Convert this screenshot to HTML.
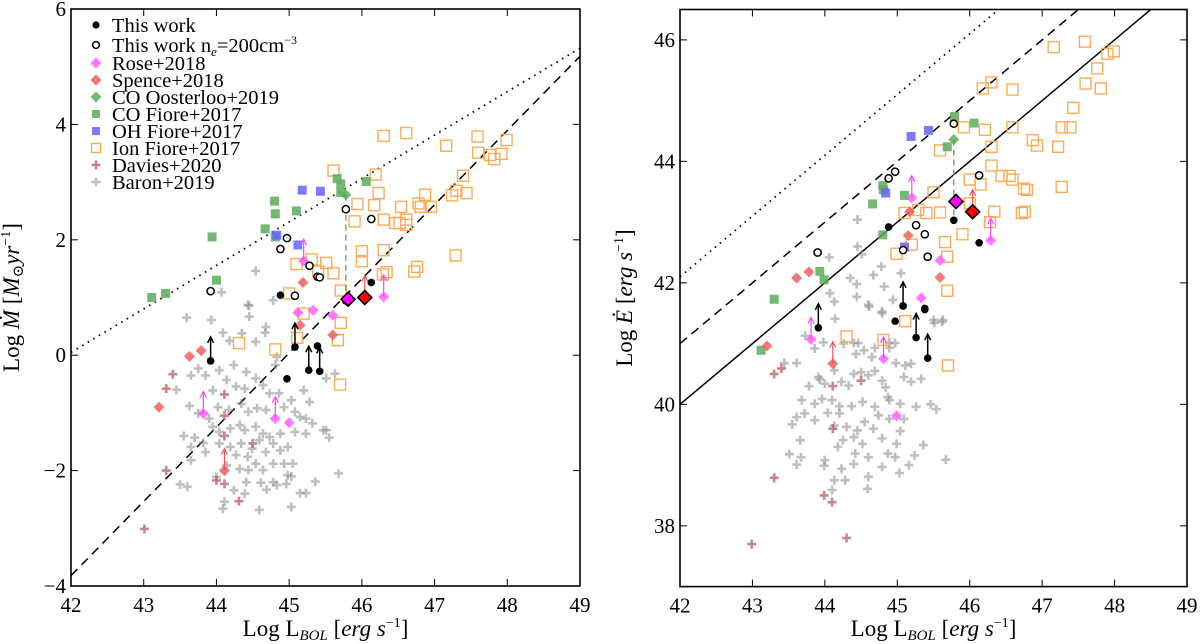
<!DOCTYPE html>
<html><head><meta charset="utf-8"><style>
html,body{margin:0;padding:0;background:#fff;}
svg{display:block;font-family:"Liberation Serif","DejaVu Serif",serif;}
</style></head><body>
<svg id="chart" width="1200" height="644" viewBox="0 0 1200 644" xmlns="http://www.w3.org/2000/svg">
<g id="left"></g>
<g id="right"></g>
</svg>
<script>
// ---------- LEFT PANEL DATA (log L_bol, log Mdot) ----------
const twL = [44.88,46.13,45.78,43.92,45.08,44.97,45.27,45.42,45.39];
const twM = [1.04,1.26,0.94,-0.10,0.14,-0.41,-0.26,-0.28,0.16];
const twUp = [0,0,0,1,1,0,1,1,0];
const twoL = [43.92,44.88,44.97,45.28,45.39,45.42,45.08,45.78,46.13];
const twoM = [1.11,1.84,2.03,1.55,1.36,1.35,1.03,2.53,2.36];
const roseL = [45.2,46.3,45.12,45.33,45.6,43.82,44.81,45.0];
const roseM = [1.63,1.01,0.74,0.78,0.69,-1.01,-1.10,-1.17];
const roseUp = [1,1,0,0,0,1,1,0];
const speL = [45.19,43.63,43.79,43.21,45.15,45.6,44.11];
const speM = [1.26,-0.02,0.08,-0.9,0.52,0.35,-2.0];
const speUp = [0,0,0,0,0,0,1];
const bigRoseL=[45.81], bigRoseM=[0.97];
const bigSpeL=[46.04], bigSpeM=[1.0];
const oosL=[45.78], oosM=[2.78], oosLow=[1.04];
const coL=[43.11,43.3,43.94,44.0,44.67,44.8,44.81,44.81,45.1,45.66,45.71,45.71,46.06];
const coM=[1.0,1.07,2.05,1.30,2.19,2.67,2.45,2.05,2.5,3.06,2.97,2.82,3.01];
const ohL=[44.83,45.12,45.18,45.43];
const ohM=[2.08,1.91,2.86,2.84];
const ionL=[45.61,46.3,46.61,47.59,47.99,47.16,47.6,47.76,47.92,47.82,46.19,47.39,46.23,46.87,47.3,47.44,47.24,45.94,46.17,46.54,46.78,46.81,46.95,45.9,46.3,46.46,46.61,46.61,46.52,46.0,46.0,46.3,47.29,46.76,46.72,46.29,46.34,45.1,45.31,45.51,45.4,45.61,45.71,45.0,45.2,45.71,45.67,44.31,44.81,45.11,45.7];
const ionM=[3.2,3.8,3.85,3.79,3.73,3.63,3.51,3.47,3.49,3.40,3.13,3.11,2.81,2.78,2.85,2.81,2.77,2.62,2.6,2.57,2.63,2.57,2.57,2.32,2.35,2.29,2.35,2.26,2.29,1.8,1.63,1.82,1.73,1.53,1.45,1.4,1.44,1.58,1.66,1.6,1.45,1.42,1.12,1.07,0.72,0.56,0.26,0.21,0.1,0.3,-0.51];
const davL=[43.4,43.31,43.01,43.31,44.11,44.11,44.11,44.5,44.0,44.11,44.31];
const davM=[-0.33,-0.58,-3.01,-2.0,-0.68,-1.05,-1.4,-1.53,-2.17,-2.23,-2.53];
const barL=[44.54,44.07,44.45,44.78,44.45,43.59,43.93,44.43,44.09,44.18,44.35,44.68,44.67,44.54,44.83,44.81,43.75,43.85,44.04,44.24,44.41,44.54,44.14,44.27,43.95,43.45,44.39,44.64,44.73,44.86,45.03,45.2,45.28,43.63,43.75,43.9,44.02,44.17,44.34,44.44,44.56,44.68,44.93,45.08,45.15,45.23,45.32,43.95,44.04,44.19,44.32,44.39,44.54,44.64,44.73,44.88,45.08,45.23,45.47,45.55,43.55,43.7,43.82,43.65,43.85,43.65,44.04,44.19,44.34,44.49,44.59,44.68,44.78,44.88,44.98,44.27,44.43,44.54,44.78,44.93,45.05,44.14,44.32,44.44,44.64,44.98,45.03,45.68,43.5,43.6,44.0,44.24,44.41,44.61,44.78,44.83,44.96,44.69,45.15,45.23,45.36,44.39,44.11,44.09,44.59,45.03,45.51,45.63,45.51,43.65];
const barM=[1.46,1.09,0.86,0.95,0.67,0.65,0.61,0.87,0.39,0.25,0.38,0.49,0.39,0.23,-0.03,-0.17,-0.23,-0.35,-0.26,-0.17,-0.29,-0.4,-0.43,-0.54,-0.61,-0.6,-0.58,-0.52,-0.66,-0.66,-0.78,-0.61,-0.81,-0.88,-1.01,-1.1,-0.9,-0.95,-0.84,-0.98,-0.92,-0.95,-0.9,-0.98,-1.07,-1.1,-1.18,-1.24,-1.33,-1.27,-1.21,-1.3,-1.24,-1.36,-1.42,-1.36,-1.33,-1.36,-1.3,-1.43,-1.4,-1.43,-1.52,-1.59,-1.68,-1.82,-1.53,-1.59,-1.53,-1.62,-1.47,-1.68,-1.53,-1.65,-1.59,-1.73,-1.76,-1.88,-1.88,-1.88,-1.88,-1.91,-1.97,-1.99,-1.99,-2.08,-2.1,-2.05,-2.24,-2.28,-2.11,-2.34,-2.2,-2.21,-2.2,-2.25,-2.23,-2.33,-2.39,-2.39,-2.19,-2.4,-2.54,-2.66,-2.68,-2.63,-1.3,-0.32,-0.4,-0.35];
// lines: [L0, y0, L1, y1]
const dottedLineL=[42,0.05,49,5.32];
const dashedLineL=[42,-3.82,49,5.18];

// ---------- RIGHT PANEL DATA (log L_bol, log Edot) ----------
const twLR=[44.88,45.78,46.13,45.08,45.38,43.91,44.97,45.08,45.26,45.42,45.38];
const twE=[42.92,43.03,42.66,41.62,41.58,41.26,41.37,41.62,41.1,40.76,41.56];
const twUpR=[0,0,0,1,0,1,0,0,1,1,0];
const twoLR=[43.9,44.88,44.97,45.26,45.38,45.08,45.42,45.78,46.13];
const twoE=[42.5,43.72,43.83,42.95,42.8,42.54,42.43,44.62,43.77];
const roseLR=[45.2,46.29,45.59,45.33,43.81,44.81,44.99];
const roseE=[43.4,42.7,42.37,41.75,41.07,40.75,39.81];
const roseUpR=[1,1,0,0,1,1,0];
const speLR=[43.61,43.78,45.17,45.15,45.59,43.2,44.11];
const speE=[42.08,42.18,43.17,42.78,42.09,40.96,40.67];
const speUpR=[0,0,0,0,0,0,1];
const bigRoseLR=[45.81], bigRoseE=[43.34];
const bigSpeLR=[46.04], bigSpeE=[43.17];
const oosLR=[45.78], oosE=[44.36], oosLowR=[43.1];
const coLR=[43.3,43.93,43.99,44.66,44.8,44.81,45.1,44.8,45.79,45.69,46.06,43.12];
const coE=[41.73,42.19,42.05,43.3,43.6,43.53,43.44,42.79,44.74,44.24,44.63,40.89];
const ohLR=[44.84,45.19,45.43,45.1];
const ohE=[43.48,44.41,44.51,42.59];
const ionLR=[47.16,47.59,47.9,47.99,47.76,46.3,46.18,46.59,47.6,47.81,47.43,45.92,46.21,46.59,47.27,47.39,46.87,46.93,47.22,45.59,46.3,46.3,46.44,46.55,46.59,46.0,46.15,46.75,46.79,47.27,45.5,45.29,45.4,45.59,45.1,46.0,46.34,46.72,46.76,46.28,45.9,45.2,45.66,44.99,45.69,45.69,45.11,44.3,44.81,45.7];
const ionE=[45.88,45.97,45.77,45.81,45.53,45.3,45.2,45.18,45.28,45.2,44.88,44.56,44.52,44.56,44.56,44.56,44.35,44.26,44.24,44.18,44.24,43.93,43.76,43.76,43.7,43.7,43.62,43.55,43.53,43.58,43.49,43.2,43.15,43.16,43.15,43.31,43.17,43.15,43.17,43.0,42.8,42.63,42.67,42.48,42.43,41.87,41.37,41.12,41.06,40.64];
const davLR=[43.3,43.4,44.11,44.5,44.11,43.3,43.99,44.1,42.99,44.3];
const davE=[40.5,40.59,40.3,40.39,39.6,38.79,38.5,38.39,37.7,37.8];
const barLR=[44.45,44.06,44.51,44.45,44.78,44.35,44.44,44.67,44.82,44.94,45.05,44.07,44.13,44.6,44.79,44.44,45.63,45.5,44.14,44.61,44.79,45.51,45.62,43.73,43.86,43.98,44.26,44.4,44.46,44.69,44.89,44.97,44.43,44.54,44.65,44.89,44.98,45.11,45.19,43.44,43.61,43.91,43.93,44.13,44.23,44.4,44.5,44.6,44.69,44.79,44.84,44.87,45.09,45.19,45.33,44.0,43.78,44.33,43.68,43.86,43.96,44.1,44.2,44.37,44.52,44.69,44.89,45.04,45.26,45.46,45.54,43.61,43.72,43.86,44.04,44.2,44.13,44.55,44.74,44.89,45.09,43.55,44.3,44.45,44.67,45.04,43.66,44.25,44.4,44.52,44.79,44.99,45.36,43.51,43.67,44.0,44.18,44.42,44.6,44.87,44.97,45.24,45.67,43.61,43.99,44.23,44.4,44.79,45.03,45.16,44.13,44.28,44.6,44.1,44.59];
const barE=[43.04,42.42,42.47,42.6,42.27,42.08,41.98,42.13,41.94,41.72,42.16,41.83,41.69,41.64,41.53,41.77,41.39,41.39,41.41,41.61,41.5,41.34,41.36,41.13,40.92,41.02,41.0,41.01,41.01,40.93,41.01,41.01,40.83,40.89,40.78,40.93,40.68,40.64,40.67,40.68,40.68,40.45,40.41,40.56,40.37,40.5,40.53,40.48,40.55,40.39,40.28,40.12,40.45,40.37,40.42,40.34,40.3,40.31,40.07,40.01,40.09,40.07,39.97,39.97,40.04,39.96,40.07,40.01,39.96,40.0,39.92,39.79,39.85,39.74,39.86,39.85,39.65,39.71,39.82,39.76,39.76,39.67,39.63,39.57,39.6,39.56,39.41,39.41,39.46,39.35,39.44,39.35,39.33,39.18,39.13,39.08,39.3,39.19,39.13,39.19,39.13,39.16,39.09,39.01,38.99,38.94,39.02,38.97,38.87,39.0,38.75,38.75,38.81,38.59,38.61];
const dottedLineR=[42,42.1,46.4,46.5];
const dashedLineR=[42,41.0,47.5,46.5];
const solidLineR=[42,40.0,48.5,46.5];

const xTicks=[42,43,44,45,46,47,48,49];
const yTicksL=[-4,-2,0,2,4,6];
const yTicksR=[38,40,42,44,46];

const NS="http://www.w3.org/2000/svg";
function mk(parent,tag,attrs){const e=document.createElementNS(NS,tag);for(const k in attrs)e.setAttribute(k,attrs[k]);parent.appendChild(e);return e;}

function makeAxes(L,R,T,B,xmin,xmax,ymin,ymax){
  return {L,R,T,B,x:v=>L+(v-xmin)/(xmax-xmin)*(R-L),y:v=>B-(v-ymin)/(ymax-ymin)*(B-T)};
}
const AL=makeAxes(71,580,9,586,42,49,-4,6);
const AR=makeAxes(680,1187,9.5,586.6,42,49,37,46.5);

const C={ion:"#ffab55",co:"#5aac5a",oh:"#6464ff",rose:"#ff55ff",spe:"#f06060",dav:"#b85050",bar:"#8a8a8a",green:"#4caf50"};

function plus(g,cx,cy,col,op){const p=mk(g,"path",{d:`M${cx-4.5},${cy}H${cx+4.5}M${cx},${cy-4.5}V${cy+4.5}`,stroke:col,"stroke-width":2.6,"stroke-opacity":op,fill:"none"});return p;}
function diamond(g,cx,cy,s,fill,op,stroke){return mk(g,"path",{d:`M${cx},${cy-s}L${cx+s},${cy}L${cx},${cy+s}L${cx-s},${cy}Z`,fill:fill,"fill-opacity":op,stroke:stroke||"none","stroke-width":stroke?1.6:0});}
function arrow(g,cx,cy,len,col,w){mk(g,"line",{x1:cx,y1:cy,x2:cx,y2:cy-len,stroke:col,"stroke-width":w});mk(g,"path",{d:`M${cx-3},${cy-len+6}L${cx},${cy-len}L${cx+3},${cy-len+6}`,stroke:col,"stroke-width":w,fill:"none"});}

function drawPanel(g,A,d,yTicks,ylabelParts,ylabX,side){
  const axisG=mk(g,"g",{});
  
  
  xTicks.forEach(t=>{const x=A.x(t);
    mk(axisG,"line",{x1:x,y1:A.B,x2:x,y2:A.B-7,stroke:"#000","stroke-width":1});
    mk(axisG,"line",{x1:x,y1:A.T,x2:x,y2:A.T+7,stroke:"#000","stroke-width":1});
    const tx=mk(axisG,"text",{x:x,y:A.B+26,"font-size":21,"text-anchor":"middle",fill:"#000"});tx.textContent=t;
    
    
  });
  yTicks.forEach(t=>{const y=A.y(t);
    mk(axisG,"line",{x1:A.L,y1:y,x2:A.L+7,y2:y,stroke:"#000","stroke-width":1});
    mk(axisG,"line",{x1:A.R,y1:y,x2:A.R-7,y2:y,stroke:"#000","stroke-width":1});
    const tx=mk(axisG,"text",{x:A.L-5,y:y+7,"font-size":21,"text-anchor":"end",fill:"#000"});tx.textContent=(t<0?"\u2212":"")+Math.abs(t);
    
    
  });
  d.lines.forEach(([ln,dash,nm])=>{
    const l=mk(g,"line",{x1:A.x(ln[0]),y1:A.y(ln[1]),x2:A.x(ln[2]),y2:A.y(ln[3]),stroke:"#000","stroke-width":dash==="dot"?1.8:1.5,"stroke-dasharray":dash==="dot"?"1.5,5":dash==="dash"?"9,6":"none"});
    
    
  });
  const s=(nm)=>{const e=mk(g,"g",{});return e;};
  let gg=s(side+'-baron-points');
  d.barX.forEach((v,i)=>{plus(gg,A.x(v),A.y(d.barY[i]),C.bar,0.55);});
  gg=s(side+'-davies-points');
  d.davX.forEach((v,i)=>{plus(gg,A.x(v),A.y(d.davY[i]),C.dav,0.7);});
  gg=s(side+'-ion-fiore-points');
  d.ionX.forEach((v,i)=>{const x=A.x(v),y=A.y(d.ionY[i]);mk(gg,"rect",{x:x-5.5,y:y-5.5,width:11,height:11,fill:"none",stroke:C.ion,"stroke-width":1.4});});
  gg=s(side+'-co-fiore-points');
  d.coX.forEach((v,i)=>{const x=A.x(v),y=A.y(d.coY[i]);mk(gg,"rect",{x:x-4.5,y:y-4.5,width:9,height:9,fill:C.co,"fill-opacity":0.85});});
  gg=s(side+'-oh-fiore-points');
  d.ohX.forEach((v,i)=>{const x=A.x(v),y=A.y(d.ohY[i]);mk(gg,"rect",{x:x-4.5,y:y-4.5,width:9,height:9,fill:C.oh,"fill-opacity":0.85});});
  gg=s(side+'-spence-points');
  d.speX.forEach((v,i)=>{const x=A.x(v),y=A.y(d.speY[i]);diamond(gg,x,y,5.5,C.spe,0.85);if(d.speUp[i])arrow(gg,x,y,22,"#f05050",1.2);});
  gg=s(side+'-rose-points');
  d.roseX.forEach((v,i)=>{const x=A.x(v),y=A.y(d.roseY[i]);diamond(gg,x,y,5.5,C.rose,0.8);if(d.roseUp[i])arrow(gg,x,y,22,"#ff44ff",1.2);});
  gg=s(side+'-oosterloo-point');
  d.oosX.forEach((v,i)=>{const x=A.x(v);mk(gg,"line",{x1:x,y1:A.y(d.oosY[i]),x2:x,y2:A.y(d.oosLow[i]),stroke:C.green,"stroke-width":1.3,"stroke-dasharray":"6,4"});diamond(gg,x,A.y(d.oosY[i]),5.5,C.co,0.85);});
  gg=s(side+'-this-work-ne200-points');
  d.twoX.forEach((v,i)=>{mk(gg,"circle",{cx:A.x(v),cy:A.y(d.twoY[i]),r:3.6,fill:"#fff",stroke:"#000","stroke-width":1.5});});
  gg=s(side+'-this-work-points');
  d.twX.forEach((v,i)=>{const x=A.x(v),y=A.y(d.twY[i]);mk(gg,"circle",{cx:x,cy:y,r:3.8,fill:"#000"});if(d.twUp[i])arrow(gg,x,y,24,"#000",1.5);});
  gg=s(side+'-highlight-diamonds');
  d.bigRX.forEach((v,i)=>diamond(gg,A.x(v),A.y(d.bigRY[i]),7,"#ff00ff",1,"#000"));
  d.bigSX.forEach((v,i)=>{const x=A.x(v),y=A.y(d.bigSY[i]);arrow(gg,x,y,22,"#f05050",1.2);diamond(gg,x,y,7,"#ff0000",1,"#000");});
  mk(axisG,"rect",{x:A.L,y:A.T,width:A.R-A.L,height:A.B-A.T,fill:"none",stroke:"#000","stroke-width":1.6});
  const xl=mk(g,"text",{x:(A.L+A.R)/2,y:636,"font-size":23,"text-anchor":"middle",fill:"#000"});
  xl.innerHTML='Log L<tspan font-size="15" font-style="italic" dy="4">BOL</tspan><tspan dy="-4"> [</tspan><tspan font-style="italic">erg s</tspan><tspan font-size="14" dy="-9">\u22121</tspan><tspan dy="9">]</tspan>';
  
  
  const yl=mk(g,"text",{x:0,y:0,"font-size":23,"text-anchor":"middle",fill:"#000",transform:`translate(${ylabX},${(A.T+A.B)/2}) rotate(-90)`});
  yl.innerHTML=ylabelParts;
  
  
}

drawPanel(document.getElementById("left"),AL,{
  lines:[[dottedLineL,"dot","left-dotted-relation"],[dashedLineL,"dash","left-dashed-relation"]],
  barX:barL,barY:barM,davX:davL,davY:davM,ionX:ionL,ionY:ionM,coX:coL,coY:coM,ohX:ohL,ohY:ohM,
  speX:speL,speY:speM,speUp:speUp,roseX:roseL,roseY:roseM,roseUp:roseUp,oosX:oosL,oosY:oosM,oosLow:oosLow,
  twoX:twoL,twoY:twoM,twX:twL,twY:twM,twUp:twUp,bigRX:bigRoseL,bigRY:bigRoseM,bigSX:bigSpeL,bigSY:bigSpeM
},yTicksL,'Log <tspan font-style="italic">\u1E40</tspan> [<tspan font-style="italic">M</tspan><tspan font-size="15" dy="4">\u2299</tspan><tspan font-style="italic" dy="-4">yr</tspan><tspan font-size="14" dy="-9">\u22121</tspan><tspan dy="9">]</tspan>',19,"left");

drawPanel(document.getElementById("right"),AR,{
  lines:[[dottedLineR,"dot","right-dotted-relation"],[dashedLineR,"dash","right-dashed-relation"],[solidLineR,"solid","right-solid-relation"]],
  barX:barLR,barY:barE,davX:davLR,davY:davE,ionX:ionLR,ionY:ionE,coX:coLR,coY:coE,ohX:ohLR,ohY:ohE,
  speX:speLR,speY:speE,speUp:speUpR,roseX:roseLR,roseY:roseE,roseUp:roseUpR,oosX:oosLR,oosY:oosE,oosLow:oosLowR,
  twoX:twoLR,twoY:twoE,twX:twLR,twY:twE,twUp:twUpR,bigRX:bigRoseLR,bigRY:bigRoseE,bigSX:bigSpeLR,bigSY:bigSpeE
},yTicksR,'Log <tspan font-style="italic">\u0116</tspan> [<tspan font-style="italic">erg s</tspan><tspan font-size="14" dy="-9">\u22121</tspan><tspan dy="9">]</tspan>',632,"right");

// legend
const lg=mk(document.getElementById("left"),"g",{});


const legendLabels=["This work",'This work  n<tspan font-size="13" font-style="italic" dy="4">e</tspan><tspan dy="-4">=200cm</tspan><tspan font-size="12" dy="-8">\u22123</tspan>',"Rose+2018","Spence+2018","CO Oosterloo+2019","CO Fiore+2017","OH Fiore+2017","Ion Fiore+2017","Davies+2020","Baron+2019"];
const legY=[25,45,63,80,97,114,131,148,165,182];
legendLabels.forEach((lab,i)=>{
  const e=mk(lg,"g",{});
  
  
  const mx=96,my=legY[i];
  if(i===0)mk(e,"circle",{cx:mx,cy:my,r:3.6,fill:"#000"});
  if(i===1)mk(e,"circle",{cx:mx,cy:my,r:3.4,fill:"#fff",stroke:"#000","stroke-width":1.5});
  if(i===2)diamond(e,mx,my,5.5,C.rose,0.8);
  if(i===3)diamond(e,mx,my,5.5,C.spe,0.85);
  if(i===4)diamond(e,mx,my,5.5,C.co,0.85);
  if(i===5)mk(e,"rect",{x:mx-4,y:my-4,width:8,height:8,fill:C.co,"fill-opacity":0.85});
  if(i===6)mk(e,"rect",{x:mx-4,y:my-4,width:8,height:8,fill:C.oh,"fill-opacity":0.85});
  if(i===7)mk(e,"rect",{x:mx-4.5,y:my-4.5,width:9,height:9,fill:"none",stroke:C.ion,"stroke-width":1.4});
  if(i===8)plus(e,mx,my,C.dav,0.7);
  if(i===9)plus(e,mx,my,C.bar,0.55);
  const t=mk(e,"text",{x:112,y:my+7,"font-size":20.5,fill:"#000"});
  t.innerHTML=lab;
});
</script>
</body></html>
